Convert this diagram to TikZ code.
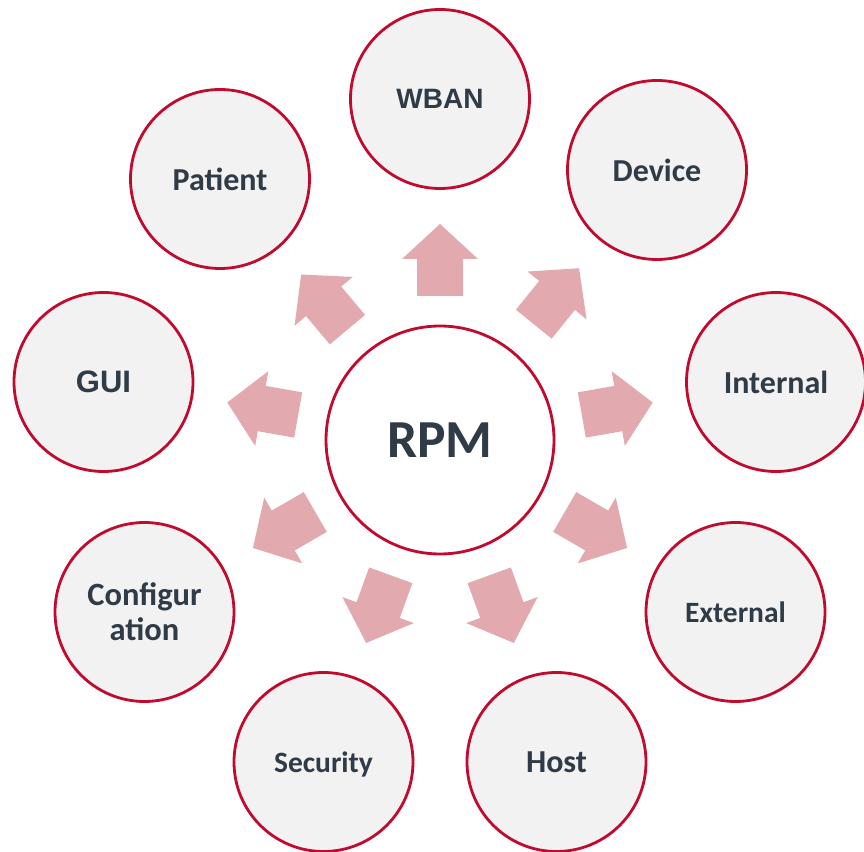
\documentclass[tikz,border=0pt]{standalone}
\usepackage{fontspec}
\setmainfont{Carlito}
\newfontfamily\arialf{Liberation Sans}
\definecolor{ringred}{HTML}{C00A2E}
\definecolor{cfill}{HTML}{F2F2F2}
\definecolor{arrowpink}{HTML}{E2AAAE}
\definecolor{txtc}{HTML}{2F3B47}
\tikzset{
  sat/.style={circle, draw=ringred, line width=2.8pt, fill=cfill,
    minimum size=179pt, inner sep=0pt, text=txtc, text depth=0pt},
  hub/.style={circle, draw=ringred, line width=2.8pt, fill=white,
    minimum size=228pt, inner sep=0pt, text=txtc, text depth=0pt},
  blockarrow/.style={fill=arrowpink}
}
\newcommand{\fs}[1]{\fontsize{#1}{#1}\selectfont\bfseries}
\begin{document}
\begin{tikzpicture}[x=1pt,y=1pt]
\useasboundingbox (0,0) rectangle (864,851);
\coordinate (c) at (440,411);
% block arrows pointing outwards
\foreach \a/\s in {90/0, 51/5, 10/0, -30/0, -70/0, -110/0, -150/0, 170/0, 130/0}{
  \fill[blockarrow, shift={(c)}, rotate=\a]
    (144+\s,-23) -- (181+\s,-23) -- (181+\s,-38) -- (216+\s,0)
    -- (181+\s,38) -- (181+\s,23) -- (144+\s,23) -- cycle;
}
\node[hub, font=\fs{53.5}] (rpm) at (c) {RPM};
\node[sat, font={\arialf\fs{28}}] (wban) at (440,752) {WBAN};
\node[sat, font=\fs{32}] (device) at (657,681) {Device};
\node[sat, font=\fs{32}] (internal) at (776,469) {Internal};
\node[sat, font=\fs{29.5}] (external) at (735.5,239) {External};
\node[sat, font=\fs{32}] (host) at (556.5,89) {Host};
\node[sat, font=\fs{29.5}] (security) at (323.5,89) {Security};
\node[sat, text depth=, align=center, font={\fontsize{32.5}{35}\selectfont\bfseries}] (config) at (144.5,239) {Configur\\ation};
\node[sat, font={\arialf\fs{31}}] (gui) at (103.5,469) {GUI};
\node[sat, font=\fs{32}] (patient) at (220,672) {Patient};
\end{tikzpicture}
\end{document}
